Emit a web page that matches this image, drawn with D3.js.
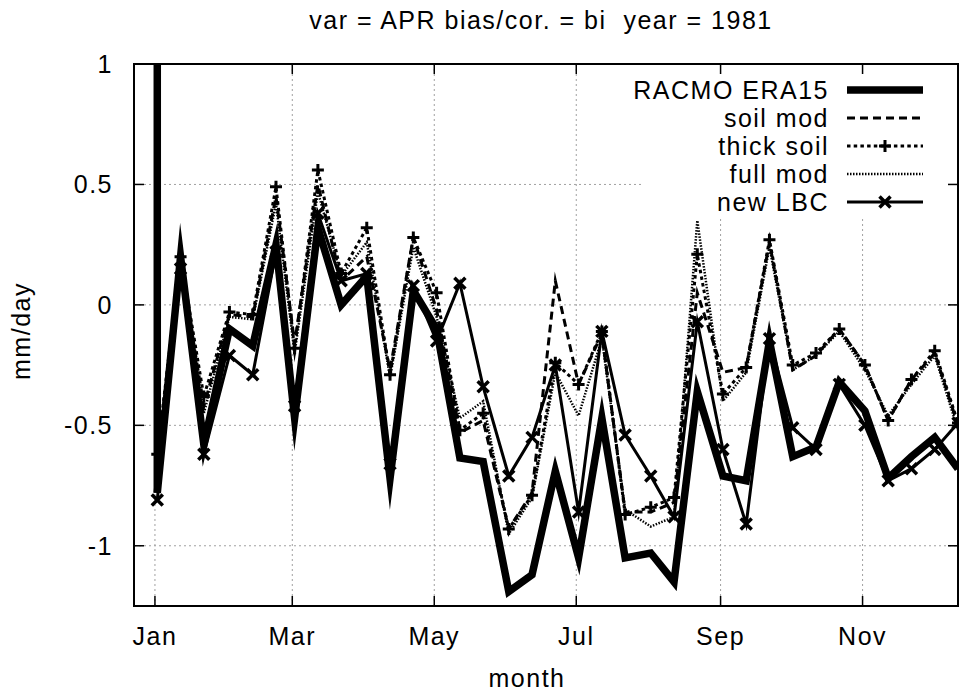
<!DOCTYPE html>
<html>
<head>
<meta charset="utf-8">
<script src="https://cdn.jsdelivr.net/npm/d3@7"></script>
<style>
  body { margin: 0; background: #fff; }
  text { font-family: "Liberation Sans", Arial, Helvetica, sans-serif; font-size: 25px; letter-spacing: 1.5px; fill: #000; }
</style>
</head>
<body>
<div id="chart"></div>
<script>
// Dekad start days (day of year, 1-based), Jan 1 .. Dec 11
const days = [1, 11, 21, 32, 42, 52, 60, 70, 80, 91, 101, 111, 121, 131, 141, 152, 162, 172,
              182, 192, 202, 213, 223, 233, 244, 254, 264, 274, 284, 294, 305, 315, 325, 335, 345];

// Month ticks (day offset of the month start) and their labels
const monthTicks = [0, 59, 120, 181, 243, 304];
const monthLabels = ["Jan", "Mar", "May", "Jul", "Sep", "Nov"];
const yTicks = [1, 0.5, 0, -0.5, -1];

// Series values, mm/day
const racmoFirst = 3.0; // first record on Jan 1, far off scale
const racmo  = [-0.78, 0.20, -0.58, -0.10, -0.17, 0.25, -0.47, 0.32, 0.00, 0.12, -0.72, 0.06, -0.10, -0.635, -0.65,
                -1.19, -1.12, -0.69, -1.05, -0.47, -1.05, -1.03, -1.15, -0.36, -0.71, -0.73, -0.15, -0.63, -0.59, -0.32,
                -0.44, -0.72, -0.63, -0.55, -0.68];
const soilMod = [-0.63, 0.18, -0.42, -0.04, -0.05, 0.45, -0.16, 0.50, 0.10, 0.20, -0.27, 0.28, -0.02, -0.53, -0.48,
                -0.93, -0.78, 0.10, -0.33, -0.12, -0.86, -0.86, -0.82, 0.05, -0.28, -0.26, 0.26, -0.27, -0.21, -0.10,
                -0.25, -0.48, -0.31, -0.20, -0.50];
const thickSoil = [-0.62, 0.20, -0.38, -0.03, -0.04, 0.49, -0.18, 0.56, 0.13, 0.32, -0.29, 0.28, 0.05, -0.52, -0.45,
                -0.93, -0.79, -0.24, -0.33, -0.11, -0.87, -0.84, -0.80, 0.21, -0.37, -0.26, 0.27, -0.25, -0.20, -0.10,
                -0.25, -0.48, -0.31, -0.19, -0.49];
const fullMod = [-0.64, 0.17, -0.45, -0.05, -0.06, 0.42, -0.20, 0.47, 0.12, 0.26, -0.30, 0.24, -0.05, -0.47, -0.40,
                -0.95, -0.80, -0.28, -0.46, -0.14, -0.85, -0.92, -0.88, 0.35, -0.40, -0.28, 0.24, -0.27, -0.21, -0.11,
                -0.27, -0.46, -0.33, -0.21, -0.52];
const newLbc = [-0.81, 0.15, -0.62, -0.21, -0.29, 0.22, -0.42, 0.38, 0.10, 0.13, -0.66, 0.08, -0.15, 0.09, -0.34,
                -0.71, -0.55, -0.25, -0.86, -0.11, -0.54, -0.71, -0.88, -0.07, -0.60, -0.91, -0.14, -0.51, -0.60, -0.33,
                -0.50, -0.73, -0.68, -0.60, -0.49];

const names = ["RACMO ERA15", "soil mod", "thick soil", "full mod", "new LBC"];

// Plot box
const W = 961, H = 691;
const margin = { top: 64, right: 3, bottom: 85, left: 134 };
const x0 = margin.left, x1 = W - margin.right, y0 = margin.top, y1 = H - margin.bottom;

const x = d3.scaleLinear().domain([-9, 345]).range([x0, x1]);
const y = d3.scaleLinear().domain([-1.25, 1]).range([y1, y0]);

const svg = d3.select("#chart").append("svg")
    .attr("width", W)
    .attr("height", H);

svg.append("rect").attr("width", W).attr("height", H).attr("fill", "#fff");

svg.append("clipPath").attr("id", "clip")
  .append("rect")
    .attr("x", x0).attr("y", y0)
    .attr("width", x1 - x0).attr("height", y1 - y0);

// Grid
const grid = svg.append("g")
    .attr("stroke", "#a0a0a0")
    .attr("stroke-width", 1)
    .attr("stroke-dasharray", "2,3");
grid.selectAll(".gx").data(monthTicks).enter().append("line")
    .attr("x1", d => x(d)).attr("x2", d => x(d))
    .attr("y1", y0).attr("y2", y1);
grid.selectAll(".gy").data(yTicks.filter(v => v < 1)).enter().append("line")
    .attr("x1", x0).attr("x2", x1)
    .attr("y1", d => y(d)).attr("y2", d => y(d));

// Key background hides the grid under it
const keyLeft = 643, keyBottom = 216;
svg.append("rect")
    .attr("x", keyLeft).attr("y", y0 + 1)
    .attr("width", x1 - keyLeft - 1).attr("height", keyBottom - y0)
    .attr("fill", "#fff");

// Line styles
const styles = [
  { width: 7.5, dash: null },
  { width: 3, dash: "8,5" },
  { width: 3, dash: "3.5,3.2" },
  { width: 2.5, dash: "1.5,1.5" },
  { width: 3, dash: null }
];

const series = [
  racmo.map((v, i) => [days[i], v]),
  soilMod.map((v, i) => [days[i], v]),
  thickSoil.map((v, i) => [days[i], v]),
  fullMod.map((v, i) => [days[i], v]),
  newLbc.map((v, i) => [days[i], v])
];

const line = d3.line()
    .x(d => x(d[0]))
    .y(d => y(d[1]));

const plot = svg.append("g").attr("clip-path", "url(#clip)");

// the off-scale first RACMO record gives a vertical stroke at Jan 1
plot.append("path")
    .datum([[days[0], racmoFirst], [days[0], racmo[0]]])
    .attr("d", line)
    .attr("fill", "none")
    .attr("stroke", "#000")
    .attr("stroke-width", styles[0].width);

series.forEach((s, k) => {
  plot.append("path")
      .datum(s)
      .attr("d", line)
      .attr("fill", "none")
      .attr("stroke", "#000")
      .attr("stroke-width", styles[k].width)
      .attr("stroke-linejoin", "miter")
      .attr("stroke-miterlimit", 25)
      .attr("stroke-dasharray", styles[k].dash);
});

// Point markers
function plus(g, cx, cy, r) {
  g.append("path").attr("d", `M${cx - r},${cy}H${cx + r}M${cx},${cy - r}V${cy + r}`);
}
function cross(g, cx, cy, r) {
  g.append("path").attr("d", `M${cx - r},${cy - r}L${cx + r},${cy + r}M${cx - r},${cy + r}L${cx + r},${cy - r}`);
}
const plusG = plot.append("g").attr("stroke", "#000").attr("stroke-width", 3);
thickSoil.forEach((v, i) => plus(plusG, x(days[i]), y(v), 6));
const crossG = plot.append("g").attr("stroke", "#000").attr("stroke-width", 3.5);
newLbc.forEach((v, i) => cross(crossG, x(days[i]), y(v), 5.5));

// Key
const keyRows = [90, 118, 146, 174, 202];
const sx0 = 847, sx1 = 923;
const key = svg.append("g");
names.forEach((n, k) => {
  key.append("text")
      .attr("x", 829).attr("y", keyRows[k])
      .attr("dy", "0.36em")
      .attr("text-anchor", "end")
      .text(n);
  key.append("line")
      .attr("x1", sx0).attr("x2", sx1)
      .attr("y1", keyRows[k]).attr("y2", keyRows[k])
      .attr("stroke", "#000")
      .attr("stroke-width", styles[k].width)
      .attr("stroke-dasharray", styles[k].dash);
});
const keyMid = (sx0 + sx1) / 2;
plus(key.append("g").attr("stroke", "#000").attr("stroke-width", 3), keyMid, keyRows[2], 6);
cross(key.append("g").attr("stroke", "#000").attr("stroke-width", 3.5), keyMid, keyRows[4], 5.5);

// Border and ticks (mirrored, inward)
svg.append("rect")
    .attr("x", x0).attr("y", y0)
    .attr("width", x1 - x0).attr("height", y1 - y0)
    .attr("fill", "none").attr("stroke", "#000").attr("stroke-width", 2);

const ticks = svg.append("g").attr("stroke", "#000").attr("stroke-width", 1.5);
monthTicks.forEach(d => {
  ticks.append("line").attr("x1", x(d)).attr("x2", x(d)).attr("y1", y1).attr("y2", y1 - 10);
  ticks.append("line").attr("x1", x(d)).attr("x2", x(d)).attr("y1", y0).attr("y2", y0 + 10);
});
yTicks.forEach(v => {
  ticks.append("line").attr("x1", x0).attr("x2", x0 + 10).attr("y1", y(v)).attr("y2", y(v));
  ticks.append("line").attr("x1", x1).attr("x2", x1 - 10).attr("y1", y(v)).attr("y2", y(v));
});

// Tick labels
svg.selectAll(".xl").data(monthTicks).enter().append("text")
    .attr("x", d => x(d)).attr("y", 645)
    .attr("text-anchor", "middle")
    .text((d, i) => monthLabels[i]);
svg.selectAll(".yl").data(yTicks).enter().append("text")
    .attr("x", 113).attr("y", d => y(d))
    .attr("dy", "0.36em")
    .attr("text-anchor", "end")
    .text(d => String(d));

// Titles
svg.append("text")
    .attr("x", 541).attr("y", 29)
    .attr("text-anchor", "middle")
    .style("white-space", "pre")
    .text("var = APR bias/cor. = bi  year = 1981");
svg.append("text")
    .attr("x", 527).attr("y", 687)
    .attr("text-anchor", "middle")
    .text("month");
svg.append("text")
    .attr("transform", "translate(30,331) rotate(-90)")
    .attr("text-anchor", "middle")
    .text("mm/day");
</script>
</body>
</html>
